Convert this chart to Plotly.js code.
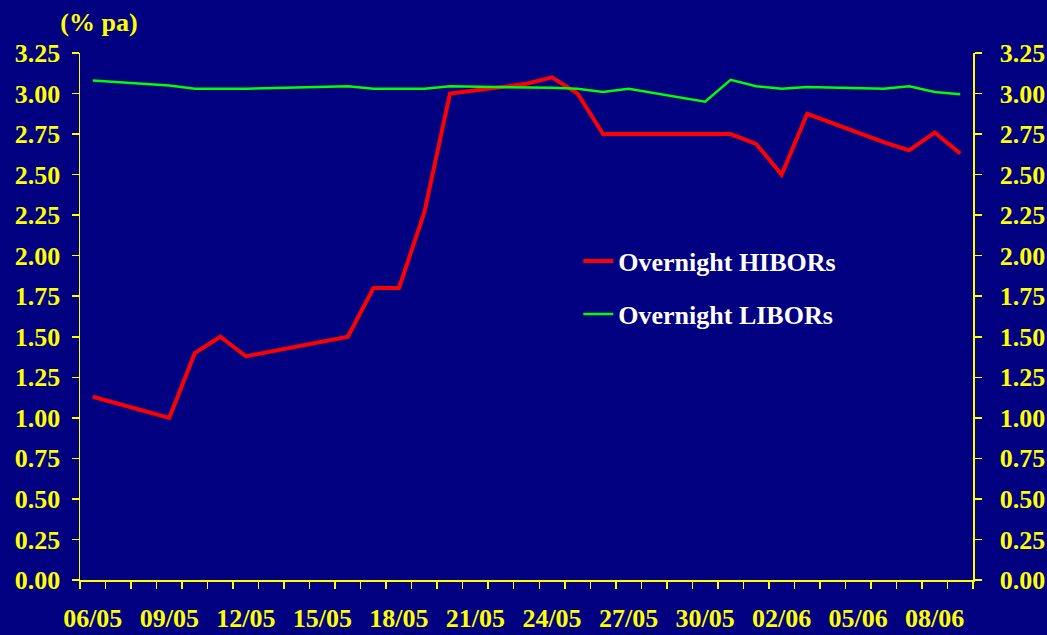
<!DOCTYPE html>
<html>
<head>
<meta charset="utf-8">
<script src="https://cdn.plot.ly/plotly-3.0.1.min.js"></script>
<style>
html,body{margin:0;padding:0;background:#000080;overflow:hidden;}
#wrap{position:relative;width:1047px;height:635px;}
#chart{width:1047px;height:635px;}
#layerfix{position:absolute;left:0;top:0;width:1047px;height:635px;pointer-events:none;will-change:transform;background:rgba(0,0,0,0);}
</style>
</head>
<body>
<div id="wrap">
<div id="chart"></div>
<div id="layerfix"></div>
</div>
<script>
// Overnight HIBOR fixings (% pa)
var hiborDates = ['2005-05-06','2005-05-09','2005-05-10','2005-05-11','2005-05-12','2005-05-16','2005-05-17','2005-05-18','2005-05-19','2005-05-20','2005-05-23','2005-05-24','2005-05-25','2005-05-26','2005-05-31','2005-06-01','2005-06-02','2005-06-03','2005-06-06','2005-06-07','2005-06-08','2005-06-09'];
var hibor = [1.13, 1.00, 1.40, 1.50, 1.38, 1.50, 1.80, 1.80, 2.27, 3.00, 3.06, 3.10, 3.00, 2.75, 2.75, 2.69, 2.50, 2.875, 2.70, 2.65, 2.76, 2.63];

// Overnight LIBOR fixings (% pa)
var liborDates = ['2005-05-06','2005-05-09','2005-05-10','2005-05-12','2005-05-16','2005-05-17','2005-05-19','2005-05-20','2005-05-24','2005-05-25','2005-05-26','2005-05-27','2005-05-30','2005-05-31','2005-06-01','2005-06-02','2005-06-03','2005-06-06','2005-06-07','2005-06-08','2005-06-09'];
var libor = [3.08, 3.05, 3.03, 3.03, 3.045, 3.03, 3.03, 3.045, 3.035, 3.03, 3.01, 3.03, 2.95, 3.085, 3.045, 3.03, 3.04, 3.03, 3.045, 3.01, 2.995];

// Axis ticks
var xTickDates = ['2005-05-06','2005-05-09','2005-05-12','2005-05-15','2005-05-18','2005-05-21','2005-05-24','2005-05-27','2005-05-30','2005-06-02','2005-06-05','2005-06-08'];
var xTickLabels = ['06/05','09/05','12/05','15/05','18/05','21/05','24/05','27/05','30/05','02/06','05/06','08/06'];
var yTickVals = [0, 0.25, 0.5, 0.75, 1, 1.25, 1.5, 1.75, 2, 2.25, 2.5, 2.75, 3, 3.25];
var yTickLabels = ['0.00','0.25','0.50','0.75','1.00','1.25','1.50','1.75','2.00','2.25','2.50','2.75','3.00','3.25'];

var FONT = 'Liberation Serif, Times New Roman, serif';
var YEL = '#FFFF00';
var DAY = 86400000;

var traces = [
  {x: hiborDates, y: hibor, type: 'scatter', mode: 'lines', name: 'Overnight HIBORs',
   line: {color: '#FF0000', width: 4}, legendgroup: 'h', xaxis: 'x', yaxis: 'y'},
  {x: liborDates, y: libor, type: 'scatter', mode: 'lines', name: 'Overnight LIBORs',
   line: {color: '#00FF00', width: 2.5}, legendgroup: 'l', xaxis: 'x', yaxis: 'y2'}
];

function yAxis(side, extra) {
  var a = {
    range: [0, 3.25], autorange: false, tickmode: 'array', tickvals: yTickVals.slice(), ticktext: yTickLabels.slice(),
    ticks: 'outside', ticklen: 7, tickwidth: 1.5, tickcolor: YEL,
    showline: true, linecolor: YEL, linewidth: 1.5, showgrid: false, zeroline: false,
    tickfont: {family: FONT, size: 26, color: YEL, weight: 700}, fixedrange: true,
    side: side, anchor: 'x'
  };
  for (var k in extra) a[k] = extra[k];
  return a;
}

var layout = {
  width: 1047, height: 635,
  paper_bgcolor: '#000080', plot_bgcolor: '#000080',
  margin: {l: 80, r: 74, t: 53, b: 55, pad: 0},
  title: {text: '(% pa)', font: {family: FONT, size: 26, color: YEL, weight: 700},
          xref: 'container', yref: 'container', x: 99/1047, xanchor: 'center', y: 1 - 22/635, yanchor: 'middle'},
  xaxis: {
    type: 'date', range: ['2005-05-05 12:00', '2005-06-09 12:00'], autorange: false,
    tickmode: 'array', tickvals: xTickDates, ticktext: xTickLabels,
    ticks: '', showline: true, linecolor: YEL, linewidth: 1.5, showgrid: false, zeroline: false,
    tickfont: {family: FONT, size: 26, color: YEL, weight: 700}, ticklabelstandoff: 14,
    minor: {ticks: 'outside', tickmode: 'linear', tick0: '2005-05-05 12:00', dtick: DAY,
            ticklen: 7, tickwidth: 1.5, tickcolor: YEL, showgrid: false},
    fixedrange: true
  },
  yaxis: yAxis('left', {ticklabelstandoff: 6}),
  yaxis2: yAxis('right', {overlaying: 'y', ticklabelstandoff: 13}),
  showlegend: true,
  legend: {x: 0.558, xanchor: 'left', y: 0.6495, yanchor: 'top', bgcolor: 'rgba(0,0,0,0)',
           font: {family: FONT, size: 26, color: '#FFFFFF', weight: 700},
           traceorder: 'grouped', tracegroupgap: 16, itemclick: false, itemdoubleclick: false}
};

Plotly.newPlot('chart', traces, layout, {displayModeBar: false, staticPlot: true});
</script>
</body>
</html>
